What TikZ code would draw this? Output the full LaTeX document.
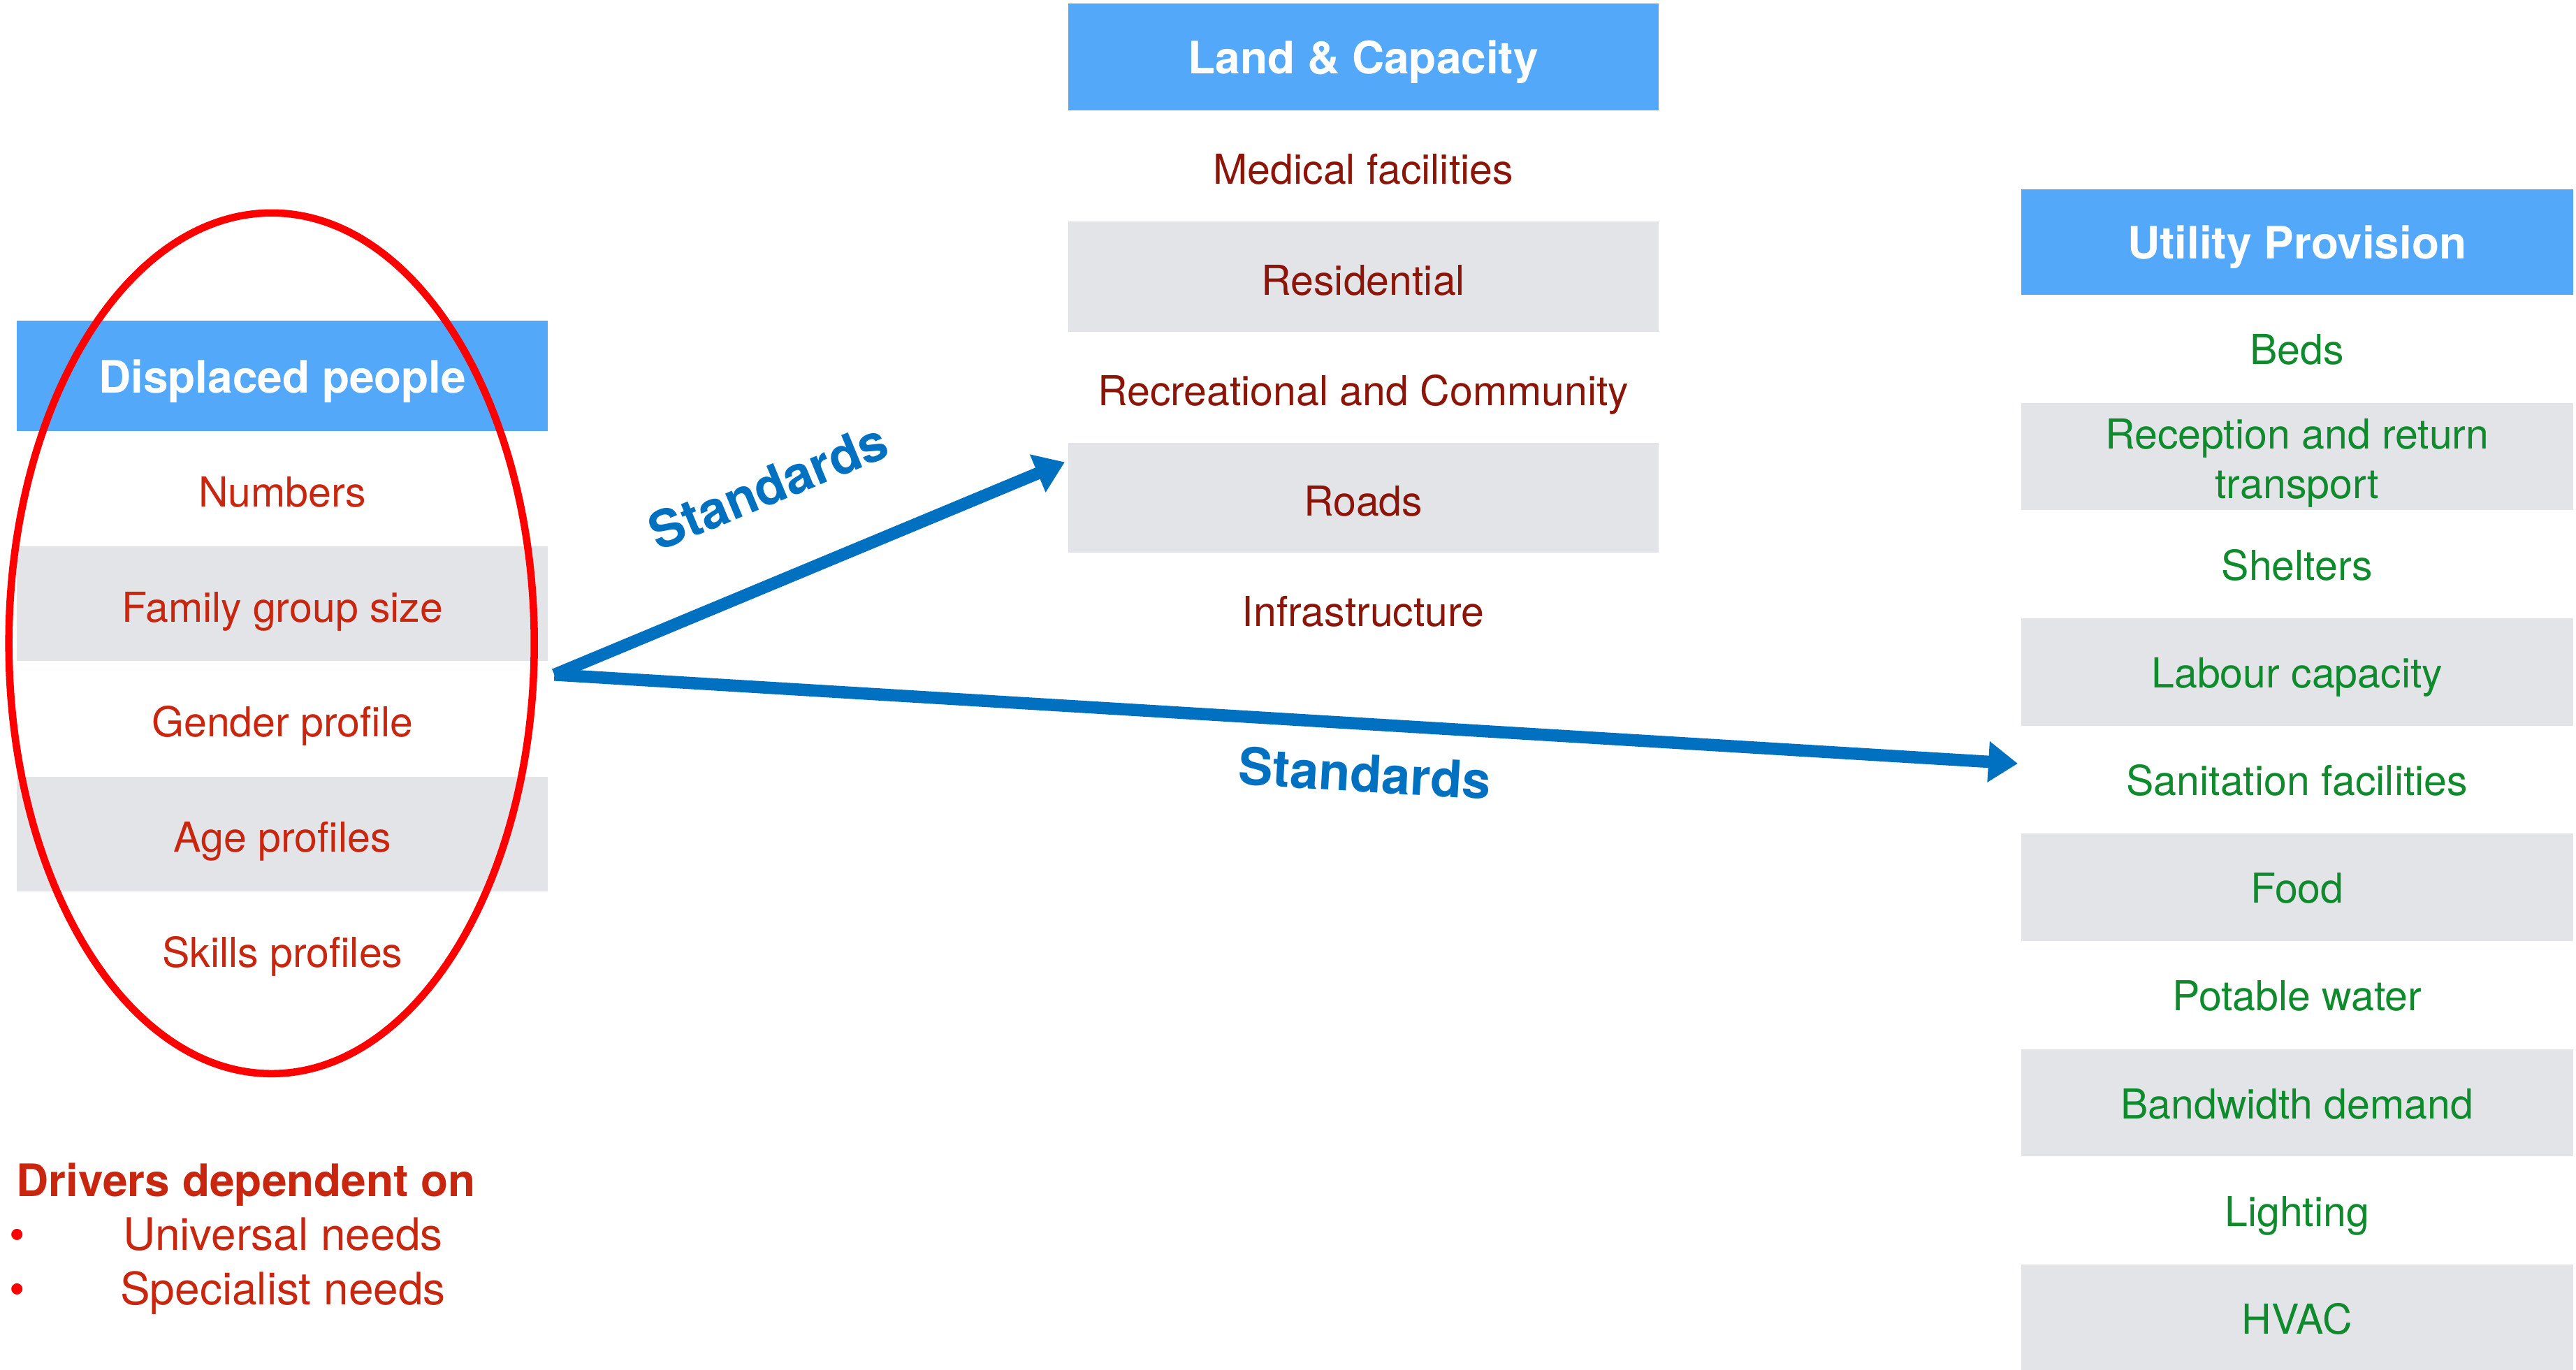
\documentclass[tikz,border=0pt]{standalone}
\usepackage{fontspec}
\setmainfont{TeX Gyre Heros}
\usetikzlibrary{arrows.meta}
\definecolor{hdrblue}{RGB}{83,168,250}
\definecolor{rowgrey}{RGB}{227,228,232}
\definecolor{dpred}{RGB}{200,38,15}
\definecolor{lcred}{RGB}{139,21,8}
\definecolor{upgreen}{RGB}{15,138,45}
\definecolor{stdblue}{RGB}{0,112,192}
\newcommand{\rowfont}{\fontsize{16.8}{20}\selectfont}
\newcommand{\hdfont}{\fontsize{18.2}{22}\selectfont\bfseries}
\newcommand{\stdfont}{\fontsize{21}{25}\selectfont\bfseries}
\tikzstyle{cell}=[inner sep=0pt, align=center, font=\rowfont,
    text height=14.8pt, text depth=0pt]
\tikzstyle{gr}=[fill=rowgrey]
\tikzstyle{hd}=[cell, fill=hdrblue, text=white, font=\hdfont, anchor=north west,
    text height=13.7pt]
\tikzstyle{dprow}=[cell, minimum width=7.6cm, minimum height=1.64cm, text=dpred]
\tikzstyle{lcrow}=[cell, minimum width=8.45cm, minimum height=1.575cm, text=lcred]
\tikzstyle{uprow}=[cell, minimum width=7.9cm, minimum height=1.535cm, text=upgreen,
    text height=12.8pt]
\tikzstyle{ring}=[draw=red, line width=3pt]
\tikzstyle{std}=[draw=stdblue, line width=5pt, -{Triangle[length=0.42cm,width=0.56cm]}]
\tikzstyle{stdlbl}=[text=stdblue, font=\stdfont, inner sep=0pt]
\tikzstyle{drvtxt}=[text=dpred, inner sep=0pt, font={\fontsize{18.2}{22}\selectfont}]

\begin{document}
\begin{tikzpicture}
    \useasboundingbox (0,0) rectangle (36.87,19.60);

    % displaced people
    \node (dp) [hd, minimum width=7.6cm, minimum height=1.575cm] at (0.235,15.015) {Displaced people};
    \path (dp.south)+(0,-0.82) node (dp1) [dprow] {Numbers};
    \path (dp1.south)+(0,-0.82) node (dp2) [dprow, gr] {Family group size};
    \path (dp2.south)+(0,-0.82) node (dp3) [dprow] {Gender profile};
    \path (dp3.south)+(0,-0.82) node (dp4) [dprow, gr] {Age profiles};
    \path (dp4.south)+(0,-0.82) node (dp5) [dprow] {Skills profiles};

    % land and capacity
    \node (lc) [hd, minimum width=8.45cm, minimum height=1.53cm] at (15.28,19.553) {Land \& Capacity};
    \path (lc.south)+(0,-0.7875) node (lc1) [lcrow] {Medical facilities};
    \path (lc1.south)+(0,-0.7875) node (lc2) [lcrow, gr] {Residential};
    \path (lc2.south)+(0,-0.7875) node (lc3) [lcrow] {Recreational and Community};
    \path (lc3.south)+(0,-0.7875) node (lc4) [lcrow, gr] {Roads};
    \path (lc4.south)+(0,-0.7875) node (lc5) [lcrow] {Infrastructure};

    % utility provision
    \node (up) [hd, minimum width=7.9cm, minimum height=1.51cm] at (28.92,16.90) {Utility Provision};
    \path (up.south)+(0,-0.7675) node (up1) [uprow] {Beds};
    \path (up1.south)+(0,-0.7675) node (up2) [uprow, gr, text height=34.1pt] {Reception and return\\transport};
    \path (up2.south)+(0,-0.7675) node (up3) [uprow] {Shelters};
    \path (up3.south)+(0,-0.7675) node (up4) [uprow, gr] {Labour capacity};
    \path (up4.south)+(0,-0.7675) node (up5) [uprow] {Sanitation facilities};
    \path (up5.south)+(0,-0.7675) node (up6) [uprow, gr] {Food};
    \path (up6.south)+(0,-0.7675) node (up7) [uprow] {Potable water};
    \path (up7.south)+(0,-0.7675) node (up8) [uprow, gr] {Bandwidth demand};
    \path (up8.south)+(0,-0.7675) node (up9) [uprow] {Lighting};
    \path (up9.south)+(0,-0.7675) node (up10) [uprow, gr] {HVAC};

    % red ring round the people table
    \path (dp2.south)+(-0.155,0.26) coordinate (ringc);
    \draw[ring] (ringc) ellipse [x radius=3.76cm, y radius=6.16cm];

    % drivers
    \node (drv) [drvtxt, font=\hdfont, anchor=base west] at (0.23,2.48) {Drivers dependent on};
    \path (drv.base west)+(0.015,-0.77) node (bl1) [drvtxt, text=red, anchor=base] {\textbullet};
    \path (bl1.base)+(3.805,0) node (nd1) [drvtxt, anchor=base] {Universal needs};
    \path (bl1.base)+(0,-0.78) node (bl2) [drvtxt, text=red, anchor=base] {\textbullet};
    \path (bl2.base)+(3.805,0) node (nd2) [drvtxt, anchor=base] {Specialist needs};

    %%% arrows
    \path (dp3.east)+(0.085,0.63) coordinate (src);
    \path (lc4.west)+(-0.04,0.51) coordinate (tipa);
    \path (up5.west)+(-0.04,0.23) coordinate (tipb);
    \path [std] (src) -- (tipa);
    \path [std] (src) -- (tipb);
    \path (src)+(3.06,2.70) node (stda) [stdlbl, rotate=22.5] {Standards};
    \path (src)+(11.60,-1.41) node (stdb) [stdlbl, rotate=-3.4] {Standards};

\end{tikzpicture}
\end{document}
